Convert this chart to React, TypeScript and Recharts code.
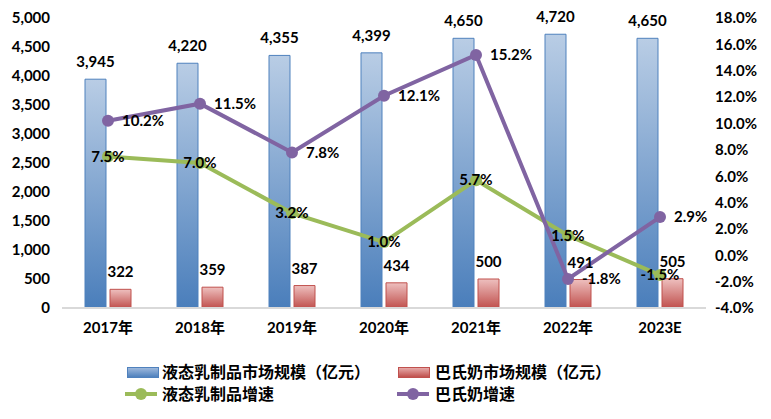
import React from 'react';
import {
  ComposedChart, Bar, Line, XAxis, YAxis, LabelList,
} from 'recharts';

const categories = ['2017年', '2018年', '2019年', '2020年', '2021年', '2022年', '2023E'];
const liquidMarket = [3945, 4220, 4355, 4399, 4650, 4720, 4650];
const pasteurMarket = [322, 359, 387, 434, 500, 491, 505];
const liquidGrowth = [7.5, 7.0, 3.2, 1.0, 5.7, 1.5, -1.5];
const pasteurGrowth = [10.2, 11.5, 7.8, 12.1, 15.2, -1.8, 2.9];

const leftTicks = [0, 500, 1000, 1500, 2000, 2500, 3000, 3500, 4000, 4500, 5000];
const rightTicks = [-4, -2, 0, 2, 4, 6, 8, 10, 12, 14, 16, 18];

const FONT = "Lato, 'Noto Sans CJK SC', sans-serif";
const BLUE = '#4f81bd';
const RED = '#c0504d';
const GREEN = '#9bbb59';
const PURPLE = '#8064a2';

const data = categories.map((name, i) => ({
  name,
  liquid: liquidMarket[i],
  pasteur: pasteurMarket[i],
  liquidRate: liquidGrowth[i],
  pasteurRate: pasteurGrowth[i],
}));

const tickStyle = { fill: '#000', fontSize: 15, fontWeight: 700, fontFamily: FONT };
const labelStyle = { fill: '#000', fontSize: 15, fontWeight: 700, fontFamily: FONT };

const pct = (v: any) => `${Number(v).toFixed(1)}%`;
const thousands = (v: any) => Number(v).toLocaleString('en-US');

function LegendRow() {
  const text: React.CSSProperties = {
    position: 'absolute', fontFamily: FONT, fontSize: 16, fontWeight: 700,
    lineHeight: '18px', color: '#000', whiteSpace: 'nowrap',
  };
  const barIcon = (left: number, top: number, c1: string, c2: string, b: string) => (
    <div style={{
      position: 'absolute', left, top, width: 30, height: 9,
      background: `linear-gradient(to bottom, ${c1}, ${c2})`, border: `1px solid ${b}`,
    }} />
  );
  const lineIcon = (left: number, top: number, c: string) => (
    <div style={{ position: 'absolute', left, top, width: 32, height: 12 }}>
      <div style={{ position: 'absolute', left: 0, top: 4, width: 32, height: 4, background: c }} />
      <div style={{ position: 'absolute', left: 10, top: 0, width: 12, height: 12, borderRadius: 6, background: c }} />
    </div>
  );
  return (
    <>
      {barIcon(127, 367, '#9db8dc', '#4f81bd', BLUE)}
      <div style={{ ...text, left: 162, top: 363 }}>液态乳制品市场规模（亿元）</div>
      {barIcon(398, 367, '#e6a9a8', '#c0504d', RED)}
      <div style={{ ...text, left: 435, top: 363 }}>巴氏奶市场规模（亿元）</div>
      {lineIcon(125, 388, GREEN)}
      <div style={{ ...text, left: 162, top: 385 }}>液态乳制品增速</div>
      {lineIcon(397, 388, PURPLE)}
      <div style={{ ...text, left: 435, top: 385 }}>巴氏奶增速</div>
    </>
  );
}

export default function App() {
  return (
    <div style={{ position: 'absolute', left: 0, top: 0, width: 771, height: 419, background: '#fff' }}>
      <ComposedChart
        width={771}
        height={419}
        data={data}
        margin={{ top: 18, right: 0, bottom: 71, left: 0 }}
        barGap={4}
        barCategoryGap="24%"
      >
        <defs>
          <linearGradient id="gBlue" x1="0" y1="0" x2="0" y2="1">
            <stop offset="0%" stopColor="#b9cde5" />
            <stop offset="100%" stopColor="#4a7ebb" />
          </linearGradient>
          <linearGradient id="gRed" x1="0" y1="0" x2="0" y2="1">
            <stop offset="0%" stopColor="#eec0bf" />
            <stop offset="100%" stopColor="#c0504d" />
          </linearGradient>
        </defs>
        <XAxis
          dataKey="name"
          height={40}
          axisLine={{ stroke: '#d9d9d9', strokeWidth: 2 }}
          tickLine={false}
          tickMargin={8}
          tick={tickStyle}
        />
        <YAxis
          yAxisId="left"
          width={62}
          domain={[0, 5000]}
          ticks={leftTicks}
          interval={0}
          axisLine={false}
          tickLine={false}
          tickMargin={6}
          tick={tickStyle}
          tickFormatter={thousands}
        />
        <YAxis
          yAxisId="right"
          orientation="right"
          width={65}
          domain={[-4, 18]}
          ticks={rightTicks}
          interval={0}
          axisLine={false}
          tickLine={false}
          tickMargin={3}
          tick={{ ...tickStyle, textAnchor: 'start' }}
          tickFormatter={pct}
        />
        <Bar yAxisId="left" dataKey="liquid" barSize={21} fill="url(#gBlue)" stroke={BLUE} strokeWidth={1} isAnimationActive={false}>
          <LabelList dataKey="liquid" position="top" offset={12} formatter={thousands} style={labelStyle} />
        </Bar>
        <Bar yAxisId="left" dataKey="pasteur" barSize={21} fill="url(#gRed)" stroke={RED} strokeWidth={1} isAnimationActive={false}>
          <LabelList dataKey="pasteur" position="top" offset={12} formatter={thousands} style={labelStyle} />
        </Bar>
        <Line
          yAxisId="right"
          dataKey="liquidRate"
          stroke={GREEN}
          strokeWidth={4}
          dot={{ r: 6, fill: GREEN, stroke: GREEN, strokeWidth: 0 }}
          isAnimationActive={false}
        >
          <LabelList dataKey="liquidRate" position="center" formatter={pct} style={labelStyle} />
        </Line>
        <Line
          yAxisId="right"
          dataKey="pasteurRate"
          stroke={PURPLE}
          strokeWidth={4}
          dot={{ r: 6, fill: PURPLE, stroke: PURPLE, strokeWidth: 0 }}
          isAnimationActive={false}
        >
          <LabelList dataKey="pasteurRate" position="right" offset={14} formatter={pct} style={labelStyle} />
        </Line>
      </ComposedChart>
      <LegendRow />
    </div>
  );
}
